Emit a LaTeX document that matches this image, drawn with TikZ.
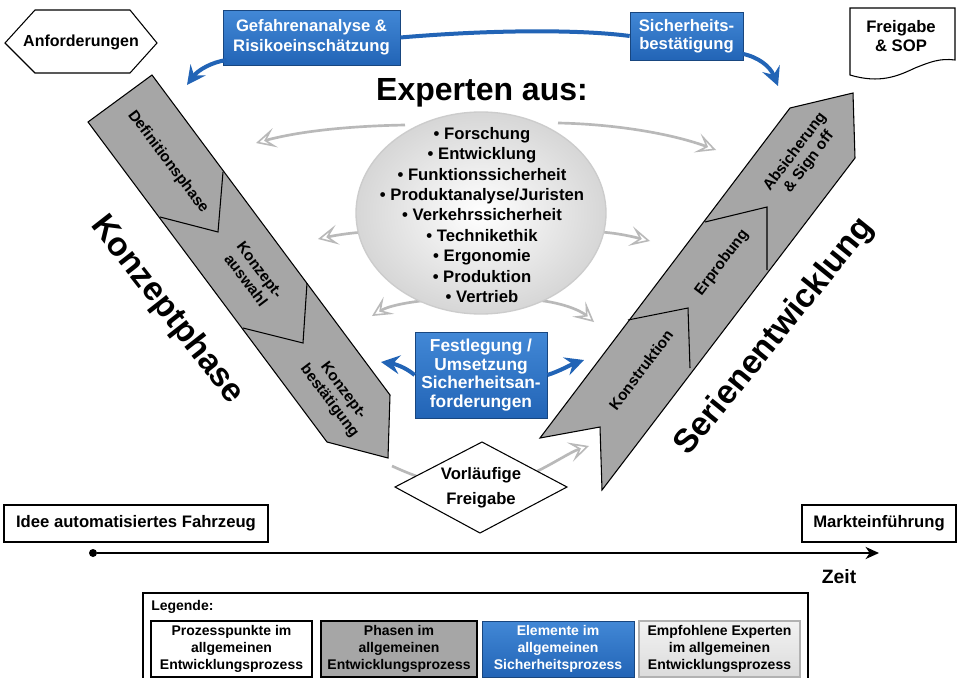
\documentclass[tikz,border=0pt]{standalone}
\usepackage{fontspec}
\setmainfont{Liberation Sans}
\usetikzlibrary{arrows.meta,shapes.geometric,calc}
\definecolor{bandgray}{RGB}{166,166,166}
\definecolor{sblue}{RGB}{34,100,182}
\definecolor{sbluelight}{RGB}{66,136,214}
\definecolor{expgray}{RGB}{185,185,185}
\begin{document}
\begin{tikzpicture}[x=0.75pt,y=-0.75pt,font=\bfseries,
  band/.style={fill=bandgray,draw=black,line width=0.8pt,line join=miter},
  chev/.style={draw=black,line width=0.8pt},
  bandtxt/.style={font=\bfseries\fontsize{11.5}{13}\selectfont,align=center,inner sep=0pt},
  bigtxt/.style={font=\bfseries\fontsize{25}{28}\selectfont,inner sep=0pt},
  bluebox/.style={draw=sblue!70!black,line width=0.5pt,top color=sbluelight,bottom color=sblue,text=white,align=center,inner sep=0pt},
  bluearrow/.style={draw=sblue,line width=3pt,-{Stealth[length=14pt,width=14pt,inset=5pt]}},
  bluelink/.style={draw=sblue,line width=3pt},
  exparrow/.style={draw=expgray,line width=2pt,-{Stealth[length=15pt,width=15pt,inset=7pt,open,fill=white,line width=1.2pt]}},
  procbox/.style={draw=black,line width=0.8pt,fill=white,inner sep=0pt,align=center},
  legtxt/.style={font=\bfseries\fontsize{10.5}{13}\selectfont,align=center,inner sep=0pt},
  stdtxt/.style={font=\bfseries\fontsize{12.5}{15}\selectfont,align=center,inner sep=0pt}
]
\useasboundingbox (0,0) rectangle (957,678);
\fill[white] (0,0) rectangle (957,678);

% ---------- expert arrows (behind) ----------
\coordinate (etl) at (256,143);
\coordinate (etr) at (716,150);
\coordinate (eml) at (318,239);
\coordinate (emr) at (650,241);
\coordinate (ebl) at (372,316);
\coordinate (ebr) at (594,322);
\coordinate (stl) at (405,125);
\coordinate (str) at (558,123);
\coordinate (sml) at (365,232);
\coordinate (smr) at (600,232);
\coordinate (sbl) at (430,300);
\coordinate (sbr) at (535,300);
\draw[exparrow] (stl) .. controls (350,126) and (300,131) .. (etl);
\draw[exparrow] (str) .. controls (612,124) and (670,133) .. (etr);
\draw[exparrow] (sml) .. controls (348,233) and (332,236) .. (eml);
\draw[exparrow] (smr) .. controls (618,233) and (634,237) .. (emr);
\draw[exparrow] (sbl) .. controls (408,302) and (388,306) .. (ebl);
\draw[exparrow] (sbr) .. controls (560,302) and (580,310) .. (ebr);

% ---------- ellipse of experts ----------
\node[ellipse,draw=gray!40,line width=1pt,inner color=white,outer color=gray!32,
      minimum width=187.5pt,minimum height=151.5pt,inner sep=0pt] (ell) at (481,213) {};
\node[font=\bfseries\fontsize{12.5}{15.3}\selectfont,align=center,inner sep=0pt] (explist) at (482,215)
 {• Forschung\\• Entwicklung\\• Funktionssicherheit\\• Produktanalyse/Juristen\\• Verkehrssicherheit\\• Technikethik\\• Ergonomie\\• Produktion\\• Vertrieb};
\node[font=\bfseries\fontsize{24}{28}\selectfont,inner sep=0pt] (exptitle) at (482,93) {Experten aus:};

% ---------- left band (Konzeptphase) ----------
\filldraw[band] (88,122) -- (152,75) -- (390,395) -- (388,458) -- (327,442) -- cycle;
\draw[chev] (223,172) -- (218,232) -- (160,217);
\draw[chev] (307,283) -- (303,343) -- (243,328);
\node[bandtxt,rotate=-53] (def) at (168,162) {Definitionsphase};
\node[bandtxt,rotate=-53] (kaw) at (253,275) {Konzept-\\auswahl};
\node[bandtxt,rotate=-53] (kbe) at (336,396) {Konzept-\\bestätigung};
\node[bigtxt,rotate=-52] (kp) at (167,310) {Konzeptphase};

% ---------- right band (Serienentwicklung) ----------
\filldraw[band] (540,438) -- (790,108) -- (853,93) -- (855,158) -- (602,490) -- (600,427) -- cycle;
\draw[chev] (628,320) -- (688,308) -- (690,368);
\draw[chev] (705,222) -- (767,207) -- (767,270);
\node[bandtxt,rotate=53] (kon) at (641,370) {Konstruktion};
\node[bandtxt,rotate=53] (erp) at (722,263) {Erprobung};
\node[bandtxt,rotate=53] (abs) at (802,157) {Absicherung\\\& Sign off};
\node[bigtxt,rotate=51] (se) at (775,337) {Serienentwicklung};

% ---------- Vorläufige Freigabe ----------
\coordinate (lbtip) at (392,466);
\coordinate (vfin) at (440,484);
\coordinate (vfout) at (525,477);
\coordinate (rbin) at (589,446);
\draw[draw=expgray,line width=2pt] (lbtip) .. controls (405,472) and (420,478) .. (vfin);
\draw[exparrow] (vfout) .. controls (550,466) and (570,452) .. (rbin);
\filldraw[draw=black,fill=white,line width=0.8pt] (395,487) -- (482,442) -- (567,487) -- (480,533) -- cycle;
\node[font=\bfseries\fontsize{12.5}{18.5}\selectfont,align=center,inner sep=0pt] (vf) at (481,488) {Vorläufige\\Freigabe};

% ---------- Anforderungen ----------
\filldraw[draw=black,fill=white,line width=0.8pt] (5,43) -- (35,10) -- (130,10) -- (157,43) -- (130,73) -- (35,73) -- cycle;
\node[stdtxt,font=\bfseries\fontsize{12}{14}\selectfont] (anf) at (81,42) {Anforderungen};

% ---------- Freigabe & SOP ----------
\filldraw[draw=black,fill=white,line width=0.8pt] (850,8) -- (955,8) -- (955,60)
  .. controls (940,58) and (930,62) .. (915,68) .. controls (898,76) and (880,84) .. (850,75) -- cycle;
\node[font=\bfseries\fontsize{12.5}{14}\selectfont,align=center,inner sep=0pt] (sop) at (901,36) {Freigabe\\\& SOP};

% ---------- blue safety elements ----------
\node[bluebox,minimum width=132.75pt,minimum height=41.25pt,font=\bfseries\fontsize{12.5}{15}\selectfont] (gef) at (311.5,37.5) {Gefahrenanalyse \&\\Risikoeinschätzung};
\node[bluebox,minimum width=84.75pt,minimum height=36pt,font=\bfseries\fontsize{12.5}{13.5}\selectfont] (sich) at (686.5,36) {Sicherheits-\\bestätigung};
\node[bluebox,minimum width=99pt,minimum height=64.5pt,font=\bfseries\fontsize{13}{13.8}\selectfont] (fest) at (481,375) {Festlegung /\\Umsetzung\\Sicherheitsan-\\forderungen};
\coordinate (gtip) at (187,85);
\coordinate (stip) at (778,86);
\coordinate (fltip) at (381,362);
\coordinate (frtip) at (584,360);
\draw[bluearrow] ([xshift=3pt,yshift=4pt]gef.south west) .. controls (212,62) and (198,70) .. (gtip);
\draw[bluelink] (gef.east) .. controls (500,29) and (585,30) .. (sich.west);
\draw[bluearrow] ([xshift=-1pt,yshift=5pt]sich.south east) .. controls (758,57) and (770,66) .. (stip);
\draw[bluearrow] (fest.west) .. controls (405,367) and (395,364) .. (fltip);
\draw[bluearrow] (fest.east) .. controls (560,371) and (570,365) .. (frtip);

% ---------- timeline ----------
\node[procbox,minimum width=198pt,minimum height=27.75pt,font=\bfseries\fontsize{12.5}{15}\selectfont] (idee) at (136,523.5) {Idee automatisiertes Fahrzeug};
\node[procbox,minimum width=115.5pt,minimum height=27.75pt,font=\bfseries\fontsize{12.5}{15}\selectfont] (markt) at (879,523.5) {Markteinführung};
\node[circle,fill=black,inner sep=0pt,minimum size=6pt] (t0) at (93,553) {};
\coordinate (t1) at (879,553);
\draw[line width=2pt,-{Stealth[length=10pt,width=9pt,inset=3pt]}] (t0) -- (t1);
\node[font=\bfseries\fontsize{14.5}{16}\selectfont,inner sep=0pt] (zeit) at (839,577) {Zeit};

% ---------- legend ----------
\draw[line width=0.8pt] (143,593) rectangle (808,684);
\node[anchor=west,font=\bfseries\fontsize{10.5}{12}\selectfont,inner sep=0pt] (leg) at (151,607) {Legende:};
\node[procbox,legtxt,minimum width=120.75pt,minimum height=42pt] (l1) at (231.5,649) {Prozesspunkte im\\allgemeinen\\Entwicklungsprozess};
\node[procbox,legtxt,fill=bandgray,minimum width=117pt,minimum height=42pt] (l2) at (399,649) {Phasen im\\allgemeinen\\Entwicklungsprozess};
\node[bluebox,legtxt,text=white,minimum width=114pt,minimum height=42pt] (l3) at (558,649) {Elemente im\\allgemeinen\\Sicherheitsprozess};
\node[procbox,legtxt,draw=gray!60,top color=gray!10,bottom color=gray!28,minimum width=120.75pt,minimum height=42pt] (l4) at (719.5,649) {Empfohlene Experten\\im allgemeinen\\Entwicklungsprozess};
\end{tikzpicture}
\end{document}
